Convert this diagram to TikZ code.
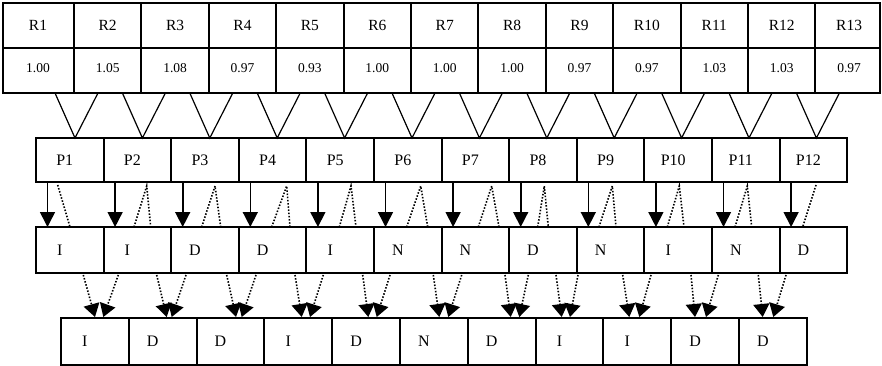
\documentclass[tikz,border=0pt]{standalone}
\usepackage{fontspec}
\setmainfont{Liberation Serif}
\usetikzlibrary{arrows.meta}

\tikzset{
  cellbox/.style={draw, line width=2pt},
  rlab/.style={inner sep=0pt, font=\fontsize{15.5}{15.5}\selectfont},
  vallab/.style={inner sep=0pt, font=\fontsize{13.5}{13.5}\selectfont},
  plab/.style={inner sep=0pt, font=\fontsize{16}{16}\selectfont},
  vline/.style={line width=1.2pt},
  downarrow/.style={line width=1.6pt, -{Triangle[width=15pt,length=15pt]}},
  dotline/.style={line width=1.6pt, dash pattern=on 1.5pt off 1.7pt},
  pairarrow/.style={dotline, -{Triangle[width=16pt,length=13pt]}},
}

\begin{document}
\begin{tikzpicture}[x=1pt, y=-1pt]
    % --- 1. Parameters ---
    \def\rW{67.4} % width of an R cell
    \def\pW{67.6} % width of a P / class cell
    \def\bW{67.8} % width of a bottom cell
    \useasboundingbox (0,0) rectangle (882,366);

    % --- 2. R row with values ---
    \draw[cellbox] (3,3) rectangle (880,93);
    \draw[cellbox] (3,48) -- (880,48);
    \foreach \k in {1,...,12}
        \draw[cellbox] ({74+\rW*(\k-1)},3) -- ({74+\rW*(\k-1)},93);
    \foreach \v [count=\k] in {1.00,1.05,1.08,0.97,0.93,1.00,1.00,1.00,0.97,0.97,1.03,1.03,0.97} {
        \pgfmathsetmacro\cx{\k==1 ? 38 : 74+\rW*(\k-1.5)}
        \node[rlab] (r\k) at (\cx,25.5) {R\k};
        \node[vallab] (v\k) at (\cx,68) {\v};
    }

    % --- 3. Funnels R -> P ---
    \foreach \k in {1,...,12} {
        \coordinate (fun\k) at ({75+\rW*(\k-1)},138);
        \draw[vline] ({75+\rW*(\k-1)-20},93) -- (fun\k) -- ({75+\rW*(\k-1)+23},93);
    }

    % --- 4. P row ---
    \draw[cellbox] (36,138) rectangle (847,182);
    \foreach \k in {1,...,11}
        \draw[cellbox] ({36+\pW*\k},138) -- ({36+\pW*\k},182);
    \foreach \k in {1,...,12}
        \node[plab] (p\k) at ({36+\pW*(\k-0.5)-5},160) {P\k};

    % --- 5. P -> class row links ---
    \foreach \k in {1,...,12} {
        \coordinate (ptop\k) at ({36+\pW*(\k-1)+11.5},182);
        \coordinate (cbot\k) at ({36+\pW*(\k-1)+11.5},227);
        \draw[downarrow] (ptop\k) -- (cbot\k);
    }
    \draw[dotline] (57.7,185) -- (70,227);
    \foreach \a/\l/\r in {146.7/134/150.7, 215/201.7/220.7, 286.7/271.7/290,
                          351/339.3/356, 420.7/406.7/427.7, 491.7/478.3/499,
                          544.3/537.7/548.3, 612.3/599/616, 679.3/667.3/684,
                          747.3/735/751.7}
        \draw[dotline] (\l,227) -- (\a,186) -- (\r,227);
    \draw[dotline] (816,185) -- (802.7,227);

    % --- 6. Class row ---
    \draw[cellbox] (36,227) rectangle (847,273);
    \foreach \k in {1,...,11}
        \draw[cellbox] ({36+\pW*\k},227) -- ({36+\pW*\k},273);
    \foreach \c [count=\k] in {I,I,D,D,I,N,N,D,N,I,N,D}
        \node[plab] (c\k) at ({36+\pW*(\k-0.5)-10},250) {\c};

    % --- 7. Pairwise links to bottom row ---
    \foreach \ls/\lt/\rs/\rt in {83.3/95/118.3/103.3, 156.7/166.7/186/171.7,
                                 226.7/236/256/241.7, 295/301.7/323.3/310,
                                 362.7/368.3/390/376.7, 433.3/439.3/461.7/448.3,
                                 505/510.7/528.3/519.3, 556/561.7/578/570,
                                 622.7/629.3/651/639.3, 691/695/718.3/706,
                                 758.3/762.7/786/773.3} {
        \draw[pairarrow] (\ls,275) -- (\lt,317);
        \draw[pairarrow] (\rs,275) -- (\rt,317);
    }

    % --- 8. Bottom row ---
    \draw[cellbox] (61,318) rectangle (807,365);
    \foreach \k in {1,...,10}
        \draw[cellbox] ({61+\bW*\k},318) -- ({61+\bW*\k},365);
    \foreach \c [count=\k] in {I,D,D,I,D,N,D,I,I,D,D}
        \node[plab] (b\k) at ({61+\bW*(\k-0.5)-10},341.5) {\c};
\end{tikzpicture}
\end{document}
